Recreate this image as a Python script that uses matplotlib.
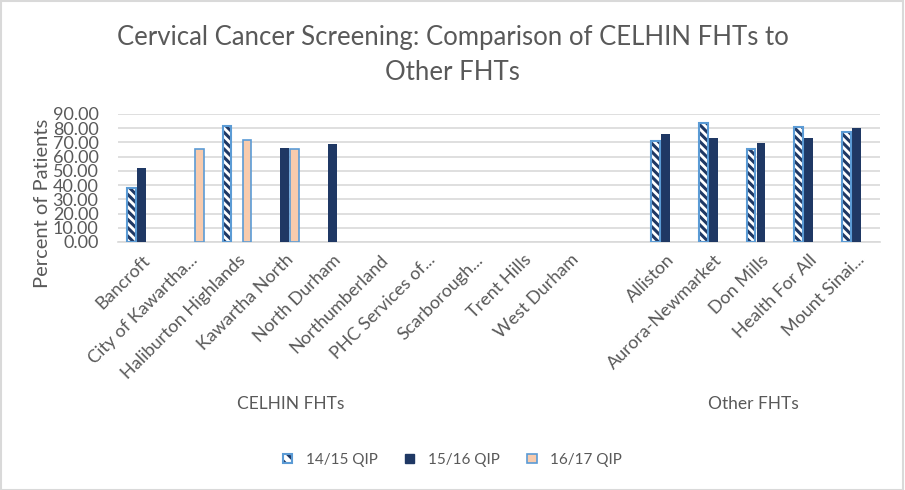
import numpy as np
import matplotlib.pyplot as plt
from matplotlib.patches import Patch, Rectangle
from matplotlib.legend_handler import HandlerTuple
import matplotlib.transforms as mtransforms

plt.rcParams['font.family'] = ['Lato', 'DejaVu Sans']
plt.rcParams['hatch.linewidth'] = 2.2

# data (nan = no bar)
celhin = ["Bancroft", "City of Kawartha...", "Haliburton Highlands", "Kawartha North",
          "North Durham", "Northumberland", "PHC Services of...", "Scarborough...",
          "Trent Hills", "West Durham"]
others = ["Alliston", "Aurora-Newmarket", "Don Mills", "Health For All", "Mount Sinai..."]

nan = np.nan
qip_1415 = [37.7, nan, 81.7, nan, nan, nan, nan, nan, nan, nan, 71.3, 83.6, 65.2, 80.8, 77.3]
qip_1516 = [52.0, nan, nan, 66.2, 69.2, nan, nan, nan, nan, nan, 75.6, 73.2, 69.9, 73.2, 80.3]
qip_1617 = [nan, 65.2, 71.6, 65.2, nan, nan, nan, nan, nan, nan, nan, nan, nan, nan, nan]

series_names = ["14/15 QIP", "15/16 QIP", "16/17 QIP"]

navy = "#1F3864"
peach = "#F8CBAD"
lblue = "#5B9BD5"
txt = "#595959"
grid = "#D9D9D9"

labels = celhin + others
# one empty slot between the two groups
x = np.array(list(range(len(celhin))) + list(range(len(celhin) + 1, len(celhin) + 1 + len(others))))

fig = plt.figure(figsize=(9.05, 4.9), dpi=100)
ax = fig.add_axes([118 / 905, 1 - 242 / 490, 762 / 905, 128 / 490])

w = 0.185
step = 0.21

# 14/15: white with navy diagonal hatch, light blue outline
ax.bar(x - step, qip_1415, width=w, facecolor="white", edgecolor=navy, hatch="\\\\\\\\", linewidth=0, zorder=3)
ax.bar(x - step, qip_1415, width=w, fill=False, edgecolor=lblue, linewidth=1.5, zorder=4)
# 15/16 solid navy
ax.bar(x, qip_1516, width=w, color=navy, zorder=3)
# 16/17 peach with light blue outline
ax.bar(x + step, qip_1617, width=w, facecolor=peach, edgecolor=lblue, linewidth=1.2, zorder=3)

ax.set_xlim(-0.5, len(labels) + 0.5)
ax.set_ylim(0, 90)
ax.set_yticks(np.arange(0, 91, 10))
ax.set_yticklabels([f"{v:.2f}" for v in np.arange(0, 91, 10)])
ax.yaxis.grid(True, color=grid, linewidth=1.2, zorder=0)
ax.set_axisbelow(True)
for s in ["top", "right", "left"]:
    ax.spines[s].set_visible(False)
ax.spines["bottom"].set_color(grid)
ax.spines["bottom"].set_linewidth(1.2)
ax.tick_params(axis="both", length=0, colors=txt)
ax.tick_params(axis="y", pad=14, labelsize=13)

ax.set_xticks(x)
ax.set_xticklabels(labels, rotation=45, ha="right", rotation_mode="anchor", fontsize=13)
ax.tick_params(axis="x", pad=7)

# group labels under the category labels
trans = mtransforms.blended_transform_factory(ax.transData, fig.transFigure)
ax.text(3.13, 1 - 404 / 490, "CELHIN FHTs", transform=trans, ha="center", va="center", color=txt, fontsize=12.5)
ax.text(12.84, 1 - 404 / 490, "Other FHTs", transform=trans, ha="center", va="center", color=txt, fontsize=12.5)

fig.text(42 / 905, 1 - 203 / 490, "Percent of Patients", rotation=90, ha="center", va="center",
         color=txt, fontsize=14.5)

fig.text(0.5, 1 - 38 / 490, "Cervical Cancer Screening: Comparison of CELHIN FHTs to",
         ha="center", va="center", color=txt, fontsize=18.5)
fig.text(0.5, 1 - 72 / 490, "Other FHTs", ha="center", va="center", color=txt, fontsize=18.5)

h1 = (Patch(facecolor="white", edgecolor=navy, hatch="\\\\\\", linewidth=0),
      Patch(fill=False, edgecolor=lblue, linewidth=1.5))
h2 = Patch(facecolor=navy, edgecolor=navy)
h3 = Patch(facecolor=peach, edgecolor=lblue, linewidth=1.2)
fig.legend([h1, h2, h3], series_names, handler_map={tuple: HandlerTuple(ndivide=1, pad=0)},
           loc="center", bbox_to_anchor=(0.5, 1 - 460 / 490), ncol=3, frameon=False,
           fontsize=11, labelcolor=txt, handlelength=0.6, handleheight=0.6,
           handletextpad=0.9, columnspacing=1.8)

fig.patches.append(Rectangle((0.001, 0.001), 0.997, 0.996, transform=fig.transFigure,
                             fill=False, edgecolor=grid, linewidth=1.5))

fig.savefig("out.png", dpi=100)
